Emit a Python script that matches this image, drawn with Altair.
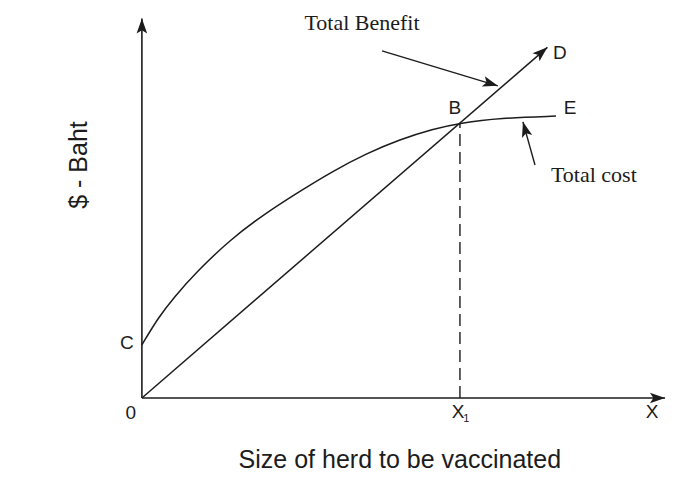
import altair as alt
import pandas as pd

# ---------------- data ----------------
# Total cost curve: starts at C on the y-axis, passes through B, flattens to E
cost_x = [0, 0.5, 1.0, 1.73, 2.77, 3.8, 4.87, 6.0, 7.08, 8.11, 9.15, 10.0, 11.26, 13.02]
cost_y = [1.93, 2.9, 3.65, 4.6, 5.75, 6.65, 7.45, 8.25, 8.9, 9.4, 9.78, 10.0, 10.18, 10.25]

# Total benefit line: from origin through B to D
benefit_x = [0, 12.75]
benefit_y = [0, 12.75]

# Axes extents and the X1 point
x_axis_end = 16.45
y_axis_end = 13.8
x1_value = 10.0
b_value = 10.0

# Annotation arrows (tail -> head)
ann_x = [7.55, 12.36]
ann_y = [12.62, 8.47]
ann_x2 = [11.19, 11.98]
ann_y2 = [11.35, 10.04]

# Arrow heads: tip positions and directions (degrees clockwise from up)
head_x = [0, x_axis_end, 12.75, 11.19, 11.98]
head_y = [y_axis_end, 0, 12.75, 11.35, 10.04]
head_angle = [0, 90, 49, 107, 344]

# Point labels
lab_text = ["B", "D", "E", "C", "0", "X", "X"]
lab_x = [9.84, 13.14, 13.46, -0.47, -0.35, 9.94, 16.04]
lab_y = [10.53, 12.55, 10.55, 2.0, -0.55, -0.51, -0.51]

sub_text = ["1"]
sub_x = [10.2]
sub_y = [-0.78]

serif_text = ["Total Benefit", "Total cost"]
serif_x = [6.92, 14.21]
serif_y = [13.38, 7.85]

x_title = "Size of herd to be vaccinated"
x_title_pos = (8.11, -2.25)
y_title = "$ - Baht"
y_title_pos = (-1.98, 8.47)

# ---------------- chart ----------------
W, H = 659, 467
xs = alt.Scale(domain=[-4.21, 16.51], nice=False, zero=False)
ys = alt.Scale(domain=[-2.80, 14.18], nice=False, zero=False)
INK = "#1c1c1c"
SANS = "Liberation Sans"
SERIF = "Liberation Serif"

X = lambda f: alt.X(f, type="quantitative", scale=xs, axis=None)
Y = lambda f: alt.Y(f, type="quantitative", scale=ys, axis=None)

axes_df = pd.DataFrame({
    "x": [0, 0], "y": [0, 0], "x2": [0, x_axis_end], "y2": [y_axis_end, 0]
})
axes = alt.Chart(axes_df).mark_rule(color=INK, strokeWidth=1.6).encode(
    x=X("x"), y=Y("y"), x2="x2", y2="y2")

dash_df = pd.DataFrame({"x": [x1_value], "y": [0], "y2": [b_value]})
dash = alt.Chart(dash_df).mark_rule(color=INK, strokeWidth=1.4, strokeDash=[12, 6]).encode(
    x=X("x"), y=Y("y"), y2="y2")

cost_df = pd.DataFrame({"x": cost_x, "y": cost_y})
cost = alt.Chart(cost_df).mark_line(color=INK, strokeWidth=1.5, interpolate="basis").encode(
    x=X("x"), y=Y("y"))

ben_df = pd.DataFrame({"x": benefit_x, "y": benefit_y})
ben = alt.Chart(ben_df).mark_line(color=INK, strokeWidth=1.5).encode(
    x=X("x"), y=Y("y"))

ann_df = pd.DataFrame({"x": ann_x, "y": ann_y, "x2": ann_x2, "y2": ann_y2})
ann = alt.Chart(ann_df).mark_rule(color=INK, strokeWidth=1.4).encode(
    x=X("x"), y=Y("y"), x2="x2", y2="y2")

ARROW = "M0,0 L0.7,2 L0,1.55 L-0.7,2 Z"
heads_df = pd.DataFrame({"x": head_x, "y": head_y, "a": head_angle})
heads = alt.Chart(heads_df).mark_point(
    shape=ARROW, filled=True, color=INK, size=230, opacity=1, strokeWidth=0
).encode(x=X("x"), y=Y("y"), angle=alt.Angle("a:Q", scale=None))

lab_df = pd.DataFrame({"t": lab_text, "x": lab_x, "y": lab_y})
labels = alt.Chart(lab_df).mark_text(
    font=SANS, fontSize=19, color=INK, align="center", baseline="middle"
).encode(x=X("x"), y=Y("y"), text="t:N")

sub_df = pd.DataFrame({"t": sub_text, "x": sub_x, "y": sub_y})
sub = alt.Chart(sub_df).mark_text(
    font=SANS, fontSize=11, color=INK, align="center", baseline="middle"
).encode(x=X("x"), y=Y("y"), text="t:N")

serif_df = pd.DataFrame({"t": serif_text, "x": serif_x, "y": serif_y})
serif = alt.Chart(serif_df).mark_text(
    font=SERIF, fontSize=22, color=INK, align="center", baseline="alphabetic"
).encode(x=X("x"), y=Y("y"), text="t:N")

xt_df = pd.DataFrame({"t": [x_title], "x": [x_title_pos[0]], "y": [x_title_pos[1]]})
xt = alt.Chart(xt_df).mark_text(
    font=SANS, fontSize=25, color=INK, align="center", baseline="middle"
).encode(x=X("x"), y=Y("y"), text="t:N")

yt_df = pd.DataFrame({"t": [y_title], "x": [y_title_pos[0]], "y": [y_title_pos[1]]})
yt = alt.Chart(yt_df).mark_text(
    font=SANS, fontSize=25, color=INK, align="center", baseline="middle", angle=270
).encode(x=X("x"), y=Y("y"), text="t:N")

chart = alt.layer(axes, dash, cost, ben, ann, heads, labels, sub, serif, xt, yt).properties(
    width=W, height=H, padding=0, autosize=alt.AutoSizeParams(type="none"),
    background="white"
).configure_view(stroke=None)

chart.save("out.html", embed_options={"renderer": "svg", "actions": False})
